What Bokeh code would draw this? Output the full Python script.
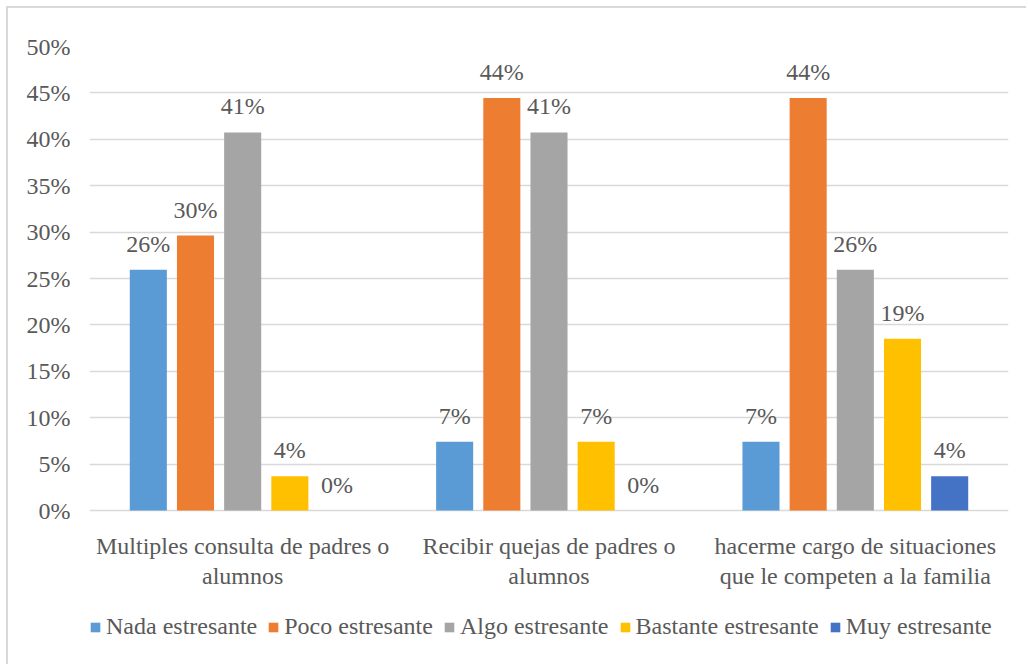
from bokeh.plotting import figure
from bokeh.models import (ColumnDataSource, FactorRange, Legend, LegendItem,
                          FixedTicker, PrintfTickFormatter)
from bokeh.transform import dodge
from bokeh.core.properties import value
from bokeh.embed import file_html
from bokeh.resources import INLINE

categories = ["Multiples consulta de padres o alumnos",
              "Recibir quejas de padres o alumnos",
              "hacerme cargo de situaciones que le competen a la familia"]
label_line1 = ["Multiples consulta de padres o",
               "Recibir quejas de padres o",
               "hacerme cargo de situaciones"]
label_line2 = ["alumnos", "alumnos", "que le competen a la familia"]
series = ["Nada estresante", "Poco estresante", "Algo estresante",
          "Bastante estresante", "Muy estresante"]
nada = [25.93, 7.41, 7.41]
poco = [29.63, 44.44, 44.44]
algo = [40.74, 40.74, 25.93]
bastante = [3.70, 7.41, 18.52]
muy = [0.0, 0.0, 3.70]
y_ticks = [0, 5, 10, 15, 20, 25, 30, 35, 40, 45, 50]

colors = ["#5B9BD5", "#ED7D31", "#A5A5A5", "#FFC000", "#4472C4"]
values = [nada, poco, algo, bastante, muy]
offsets = [-0.308, -0.154, 0.0, 0.154, 0.308]

FONT = "Liberation Serif"
TXT = "#595959"
GRID = "#D9D9D9"

# frame extends to the bottom of the chart so that the category labels and
# the legend (drawn inside it) are not clipped; the value scale is unchanged
p = figure(x_range=FactorRange(factors=categories), y_range=(-16.81, 50),
           width=1020, height=658, output_backend="svg", toolbar_location=None,
           min_border_left=81, min_border_right=20, min_border_top=38,
           min_border_bottom=0)
p.outline_line_color = None
p.xgrid.grid_line_color = None
p.ygrid.grid_line_color = GRID
p.ygrid.grid_line_width = 1.3
p.ygrid.ticker = FixedTicker(ticks=y_ticks)
p.xaxis.visible = False

p.yaxis.ticker = FixedTicker(ticks=y_ticks)
p.yaxis.formatter = PrintfTickFormatter(format="%d%%")
p.yaxis.axis_line_color = None
p.yaxis.major_tick_line_color = None
p.yaxis.minor_tick_line_color = None
p.yaxis.major_tick_out = 0
p.yaxis.major_tick_in = 0
p.yaxis.major_label_standoff = 19
p.yaxis.major_label_text_font = FONT
p.yaxis.major_label_text_font_size = "24px"
p.yaxis.major_label_text_color = TXT

cat_src = ColumnDataSource(dict(cat=categories, l1=label_line1, l2=label_line2,
                                base=[0] * len(categories)))
for col, off in (("l1", 35), ("l2", 65)):
    p.text(x="cat", y="base", text=col, source=cat_src, y_offset=off,
           text_align="center", text_baseline="alphabetic",
           text_font=value(FONT), text_font_size="24px", text_color=TXT)

items = []
for name, vals, col, off in zip(series, values, colors, offsets):
    src = ColumnDataSource(dict(cat=categories, val=vals,
                                lab=["%d%%" % int(v + 0.5) for v in vals]))
    r = p.vbar(x=dodge("cat", off, range=p.x_range), top="val", width=0.121,
               source=src, fill_color=col, line_color=None)
    p.text(x=dodge("cat", off, range=p.x_range), y="val", text="lab", source=src,
           text_align="center", text_baseline="alphabetic", y_offset=-26,
           text_font=value(FONT), text_font_size="24px", text_color=TXT)
    items.append(LegendItem(label=name, renderers=[r]))

legend = Legend(items=items, orientation="horizontal", location=(0, 26),
                glyph_width=12, glyph_height=12, label_standoff=5, spacing=10,
                padding=0, margin=0, border_line_color=None,
                background_fill_alpha=0,
                label_text_font=FONT, label_text_font_size="24px",
                label_text_color=TXT)
p.add_layout(legend, "center")
p.styles = {"margin": "6px 0 0 6px",
            "border-left": "2px solid #D9D9D9", "border-top": "2px solid #D9D9D9"}

open("out.html", "w").write(file_html(p, INLINE))
